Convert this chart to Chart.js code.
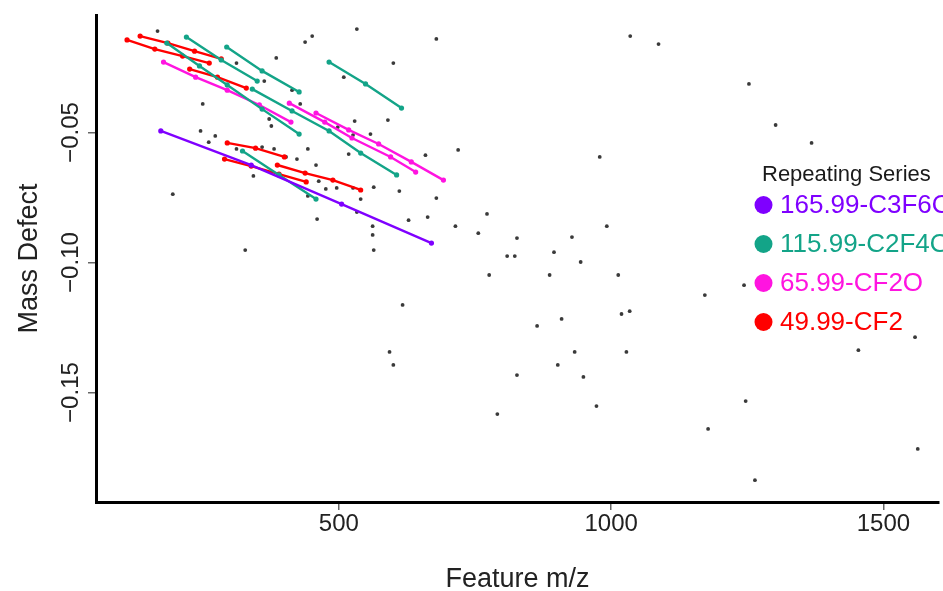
<!DOCTYPE html>
<html><head><meta charset="utf-8">
<script src="https://cdn.jsdelivr.net/npm/chart.js@4.4.1/dist/chart.umd.min.js"></script>
<style>html,body{margin:0;padding:0;background:#fff;overflow:hidden}canvas{display:block}</style>
</head><body>
<canvas id="c" width="943" height="591"></canvas>
<script>
// ---- axis ticks / ranges ----
const xTicks = [500, 1000, 1500];
const yTicks = [-0.15, -0.10, -0.05];
const xRange = [54, 1602];
const yRange = [-0.1921, -0.0048];

// ---- unassigned features (grey) ----
const grayMz = [167,438,451,533,679,312,385,363,414,429,250,372,376,246,273,261,312,359,381,403,423,443,458,343,195,463,476,496,443,460,540,564,518,526,558,529,498,600,509,590,659,719,611,679,526,533,663,772,628,562,562,564,714,756,827,928,992,895,809,823,944,776,887,1013,1172,1244,617,864,909,1019,1034,593,600,933,1028,902,827,949,1558,1454,1247,973,791,1178,1563,1264,1035,1087,1253,1302,1368,979,328];
const grayMd = [-0.0110,-0.0152,-0.0129,-0.0102,-0.0140,-0.0233,-0.0213,-0.0302,-0.0337,-0.0390,-0.0390,-0.0448,-0.0475,-0.0494,-0.0513,-0.0537,-0.0563,-0.0556,-0.0563,-0.0594,-0.0602,-0.0563,-0.0625,-0.0667,-0.0737,-0.0687,-0.0717,-0.0713,-0.0744,-0.0833,-0.0756,-0.0710,-0.0583,-0.0510,-0.0506,-0.0456,-0.0479,-0.0233,-0.0287,-0.0452,-0.0587,-0.0567,-0.0725,-0.0752,-0.0713,-0.0806,-0.0825,-0.0813,-0.0837,-0.0860,-0.0894,-0.0952,-0.0860,-0.0887,-0.0906,-0.0902,-0.0860,-0.0960,-0.0975,-0.0975,-0.0998,-0.1048,-0.1048,-0.1048,-0.1125,-0.1087,-0.1163,-0.1244,-0.1217,-0.1198,-0.1187,-0.1344,-0.1394,-0.1344,-0.1344,-0.1394,-0.1433,-0.1440,-0.1287,-0.1337,-0.1533,-0.1552,-0.1583,-0.1640,-0.1717,-0.1837,-0.0129,-0.0160,-0.0313,-0.0471,-0.0540,-0.0594,-0.0952];

// ---- repeating series (each inner array = one homologous chain) ----
const legendTitle = 'Repeating Series';
const seriesNames = ['165.99-C3F6O', '115.99-C2F4O', '65.99-CF2O', '49.99-CF2'];
const seriesColors = ['#7f00ff', '#13a488', '#ff14e0', '#ff0000'];

const purpleMz = [[173, 339, 505, 670]];
const purpleMd = [[-0.0494, -0.0625, -0.0775, -0.0925]];

const tealMz = [[220, 284, 350], [294, 359, 427], [184, 244, 295, 359, 427], [341, 414, 482, 540, 606], [482, 549, 615], [323, 390, 458]];
const tealMd = [[-0.0133, -0.0221, -0.0302], [-0.0171, -0.0263, -0.0344], [-0.0156, -0.0244, -0.0317, -0.0410, -0.0506], [-0.0333, -0.0417, -0.0494, -0.0579, -0.0663], [-0.0229, -0.0313, -0.0406], [-0.0571, -0.0663, -0.0756]];

const magentaMz = [[178, 237, 295, 354, 412], [409, 474, 524, 595, 641], [458, 518, 573, 633, 692]];
const magentaMd = [[-0.0229, -0.0287, -0.0337, -0.0394, -0.0460], [-0.0387, -0.0460, -0.0521, -0.0594, -0.0652], [-0.0425, -0.0490, -0.0544, -0.0613, -0.0683]];

const redMz = [[111, 162, 213, 262], [135, 186, 235, 284], [226, 277, 330], [295, 347, 400], [290, 339, 390, 440], [387, 438, 489, 540]];
const redMd = [[-0.0144, -0.0179, -0.0206, -0.0233], [-0.0129, -0.0156, -0.0187, -0.0217], [-0.0256, -0.0287, -0.0329], [-0.0540, -0.0560, -0.0594], [-0.0602, -0.0629, -0.0660, -0.0690], [-0.0625, -0.0656, -0.0683, -0.0721]];

const FONT = '"Liberation Sans", Arial, Helvetica, sans-serif';

function chains(mzs, mds, color, order) {
  return mzs.map((m, i) => ({
    type: 'scatter', showLine: true,
    data: m.map((x, j) => ({ x: x, y: mds[i][j] })),
    borderColor: color, backgroundColor: color,
    borderWidth: 2.4, pointRadius: 2.6, pointBorderWidth: 0, pointHoverRadius: 2.6,
    order: order
  }));
}

const datasets = [
  { type: 'scatter', data: grayMz.map((x, i) => ({ x: x, y: grayMd[i] })),
    backgroundColor: '#3a3a3a', borderColor: '#3a3a3a', pointRadius: 1.9, pointBorderWidth: 0, order: 10 },
  ...chains(redMz, redMd, seriesColors[3], 4),
  ...chains(magentaMz, magentaMd, seriesColors[2], 3),
  ...chains(tealMz, tealMd, seriesColors[1], 2),
  ...chains(purpleMz, purpleMd, seriesColors[0], 1)
];

const legendPlugin = {
  id: 'repLegend',
  afterDraw(chart) {
    const ctx = chart.ctx;
    ctx.save();
    ctx.textBaseline = 'middle';
    ctx.textAlign = 'left';
    ctx.font = '22px ' + FONT;
    ctx.fillStyle = '#1a1a1a';
    ctx.fillText(legendTitle, 762, 175);
    ctx.font = '26px ' + FONT;
    seriesNames.forEach((n, i) => {
      const y = 205 + i * 39;
      ctx.fillStyle = seriesColors[i];
      ctx.beginPath(); ctx.arc(763.5, y, 9, 0, Math.PI * 2); ctx.fill();
      ctx.fillText(n, 780, y + 1);
    });
    ctx.restore();
  }
};

const minus = v => (v < 0 ? '\u2212' : '') + Math.abs(v).toFixed(2);

new Chart(document.getElementById('c'), {
  type: 'scatter',
  data: { datasets: datasets },
  plugins: [legendPlugin],
  options: {
    responsive: false, animation: false, devicePixelRatio: 1,
    layout: { padding: { top: 15, right: 0, left: 0, bottom: 0 } },
    plugins: { legend: { display: false }, tooltip: { enabled: false } },
    scales: {
      x: {
        type: 'linear', min: xRange[0], max: xRange[1],
        afterBuildTicks: s => { s.ticks = xTicks.map(v => ({ value: v })); },
        afterFit: s => { s.height = 89; },
        border: { display: true, color: '#000', width: 3 },
        grid: { display: true, drawOnChartArea: false, drawTicks: true, tickLength: 8, color: '#666', lineWidth: 1.5 },
        ticks: { color: '#222', font: { family: FONT, size: 24 }, padding: 0, maxRotation: 0, autoSkip: false, callback: v => String(v) },
        title: { display: true, text: 'Feature m/z', color: '#222', font: { family: FONT, size: 27 }, padding: { top: 4, bottom: -5 } }
      },
      y: {
        type: 'linear', min: yRange[0], max: yRange[1],
        afterBuildTicks: s => { s.ticks = yTicks.map(v => ({ value: v })); },
        afterFit: s => { s.width = 96; },
        border: { display: true, color: '#000', width: 3 },
        grid: { display: true, drawOnChartArea: false, drawTicks: true, tickLength: 8, color: '#666', lineWidth: 1.5 },
        ticks: { color: '#222', font: { family: FONT, size: 24 }, minRotation: 90, maxRotation: 90, crossAlign: 'center', padding: -14, autoSkip: false, callback: v => minus(v) },
        title: { display: true, text: 'Mass Defect', color: '#222', font: { family: FONT, size: 27 }, padding: { top: 13, bottom: 4 } }
      }
    }
  }
});
</script>
</body></html>
